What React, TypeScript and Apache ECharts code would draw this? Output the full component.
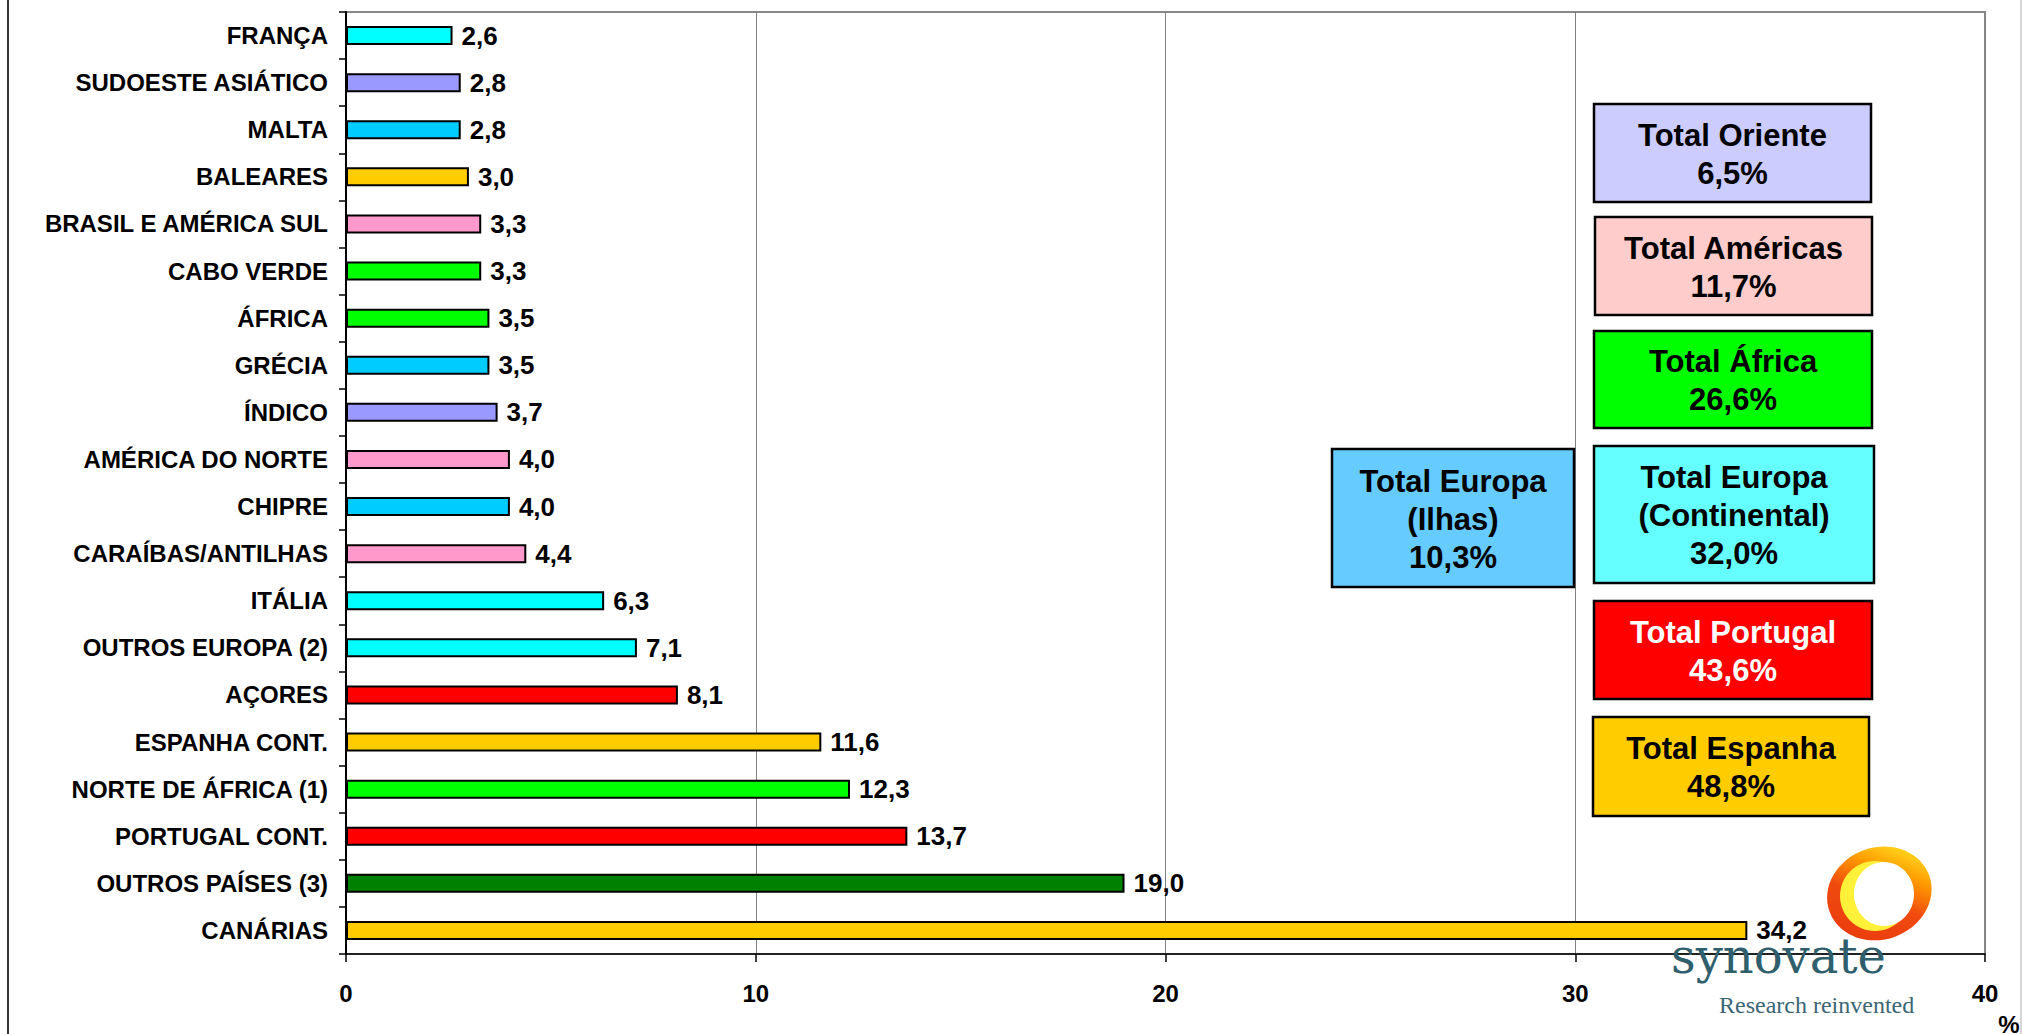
import React, { useEffect, useRef } from "react";
import * as echarts from "echarts";

const categories = [
  "FRANÇA",
  "SUDOESTE ASIÁTICO",
  "MALTA",
  "BALEARES",
  "BRASIL E AMÉRICA SUL",
  "CABO VERDE",
  "ÁFRICA",
  "GRÉCIA",
  "ÍNDICO",
  "AMÉRICA DO NORTE",
  "CHIPRE",
  "CARAÍBAS/ANTILHAS",
  "ITÁLIA",
  "OUTROS EUROPA (2)",
  "AÇORES",
  "ESPANHA CONT.",
  "NORTE DE ÁFRICA (1)",
  "PORTUGAL CONT.",
  "OUTROS PAÍSES (3)",
  "CANÁRIAS",
];

const values = [2.6, 2.8, 2.8, 3.0, 3.3, 3.3, 3.5, 3.5, 3.7, 4.0, 4.0, 4.4, 6.3, 7.1, 8.1, 11.6, 12.3, 13.7, 19.0, 34.2];

const barColors = [
  "#00FFFF", "#9999FF", "#00CCFF", "#FFCC00", "#FF99CC",
  "#00FF00", "#00FF00", "#00CCFF", "#9999FF", "#FF99CC",
  "#00CCFF", "#FF99CC", "#00FFFF", "#00FFFF", "#FF0000",
  "#FFCC00", "#00FF00", "#FF0000", "#008000", "#FFCC00",
];

const xTicks = [0, 10, 20, 30, 40];

const totalLabels = [
  "Total Oriente",
  "Total Américas",
  "Total África",
  "Total Europa\n(Continental)",
  "Total Europa\n(Ilhas)",
  "Total Portugal",
  "Total Espanha",
];
const totalValues = [6.5, 11.7, 26.6, 32.0, 10.3, 43.6, 48.8];
const totalColors = ["#CCCCFF", "#FFCCCC", "#00FF00", "#66FFFF", "#66CCFF", "#FF0000", "#FFCC00"];
const totalTextColors = ["#000", "#000", "#000", "#000", "#000", "#FFFFFF", "#000"];

// box layout: [x, y, w, h]
const boxRects = [
  [1594, 104, 277, 98],
  [1595, 217, 277, 98],
  [1594, 331, 278, 97],
  [1594, 446, 280, 137],
  [1332, 449, 242, 138],
  [1594, 601, 278, 98],
  [1593, 717, 276, 99],
];

const fmt = (v: number) => v.toFixed(1).replace(".", ",");

const FONT = '"Liberation Sans", Arial, sans-serif';

export default function App() {
  const ref = useRef<HTMLDivElement>(null);

  useEffect(() => {
    document.body.style.margin = "0";
    if (!ref.current) return;
    const chart = echarts.init(ref.current, undefined, { renderer: "svg" });

    const boxes: any[] = [];
    boxRects.forEach((r, i) => {
      const [x, y, w, h] = r;
      boxes.push({
        type: "rect",
        shape: { x, y, width: w, height: h },
        style: { fill: totalColors[i], stroke: "#000", lineWidth: 2.5 },
        z: 10,
      });
      boxes.push({
        type: "text",
        x: x + w / 2,
        y: y + h / 2 + 1,
        z: 11,
        style: {
          text: totalLabels[i] + "\n" + fmt(totalValues[i]) + "%",
          fill: totalTextColors[i],
          fontSize: 31,
          fontWeight: "bold",
          fontFamily: FONT,
          font: 'bold 31px "Liberation Sans", Arial, sans-serif',
          align: "center",
          verticalAlign: "middle",
          textAlign: "center",
          textVerticalAlign: "middle",
          lineHeight: 38,
        },
      });
    });

    const logo: any[] = [
      {
        type: "ellipse",
        shape: { cx: 1880, cy: 894, rx: 53, ry: 46 },
        rotation: 0.35,
        originX: 1880,
        originY: 894,
        z: 5,
        style: {
          fill: new echarts.graphic.LinearGradient(0, 1, 1, 0, [
            { offset: 0, color: "#E8380C" },
            { offset: 0.45, color: "#F04A10" },
            { offset: 0.68, color: "#FF9A00" },
            { offset: 1, color: "#FFFF30" },
          ]),
        },
      },
      {
        type: "ellipse",
        shape: { cx: 1875, cy: 896, rx: 35, ry: 35 },
        z: 5,
        style: { fill: "#FFF03A" },
      },
      {
        type: "ellipse",
        shape: { cx: 1884, cy: 894, rx: 30, ry: 32 },
        z: 5,
        style: { fill: "#FFFFFF" },
      },
      {
        type: "text",
        x: 1671,
        y: 956,
        z: 5,
        style: {
          text: "synovate",
          fill: "#2F5E6C",
          fontSize: 48,
          fontFamily: '"DejaVu Serif", serif',
          font: '48px "DejaVu Serif", serif',
          align: "left",
          verticalAlign: "middle",
        },
      },
      {
        type: "text",
        x: 1719,
        y: 1005,
        z: 5,
        style: {
          text: "Research reinvented",
          fill: "#3B6675",
          fontSize: 24,
          fontFamily: '"Liberation Serif", serif',
          font: '24px "Liberation Serif", serif',
          align: "left",
          verticalAlign: "middle",
        },
      },
    ];

    chart.setOption({
      animation: false,
      backgroundColor: "#FFFFFF",
      grid: {
        left: 346,
        right: 37,
        top: 12,
        bottom: 80,
        show: true,
        borderColor: "#888888",
        borderWidth: 2,
        containLabel: false,
        outerBoundsMode: "none",
      },
      xAxis: {
        type: "value",
        min: 0,
        max: 40,
        interval: 10,
        axisLine: { show: true, lineStyle: { color: "#000", width: 1.5 } },
        axisTick: { show: true, length: 8, lineStyle: { color: "#000", width: 1.5 } },
        axisLabel: {
          margin: 27,
          fontSize: 24,
          fontWeight: "bold",
          fontFamily: FONT,
          color: "#000",
          formatter: (v: number) => (xTicks.includes(v) ? String(v) : ""),
        },
        splitLine: { show: true, lineStyle: { color: "#808080", width: 1 } },
      },
      yAxis: {
        type: "category",
        inverse: true,
        data: categories,
        axisLine: { show: true, lineStyle: { color: "#000", width: 2 } },
        axisTick: { show: true, length: 7, lineStyle: { color: "#000", width: 1.5 } },
        axisLabel: {
          margin: 18,
          fontSize: 24,
          fontWeight: "bold",
          fontFamily: FONT,
          color: "#000",
        },
        splitLine: { show: false },
      },
      series: [
        {
          type: "bar",
          barWidth: 19,
          data: values.map((v, i) => ({
            value: v,
            itemStyle: { color: barColors[i] },
          })),
          itemStyle: { borderColor: "#000", borderWidth: 2 },
          label: {
            show: true,
            position: "right",
            distance: 9,
            fontSize: 26,
            fontWeight: "bold",
            fontFamily: FONT,
            color: "#000",
            formatter: (p: any) => fmt(p.value),
          },
          z: 3,
        },
      ],
      graphic: [
        {
          type: "line",
          shape: { x1: 8, y1: 0, x2: 8, y2: 1034 },
          style: { stroke: "#333", lineWidth: 2 },
        },
        {
          type: "line",
          shape: { x1: 2021, y1: 0, x2: 2021, y2: 1034 },
          style: { stroke: "#C8C8C8", lineWidth: 1.5 },
        },
        {
          type: "text",
          x: 2009,
          y: 1012,
          style: {
            text: "%",
            fill: "#000",
            fontSize: 24,
            fontWeight: "bold",
            fontFamily: FONT,
            font: 'bold 24px "Liberation Sans", Arial, sans-serif',
            align: "center",
            verticalAlign: "top",
          },
        },
        ...logo,
        ...boxes,
      ],
    });

    return () => {
      chart.dispose();
    };
  }, []);

  return (
    <div
      ref={ref}
      style={{ position: "fixed", left: 0, top: 0, width: 2022, height: 1034 }}
    />
  );
}
